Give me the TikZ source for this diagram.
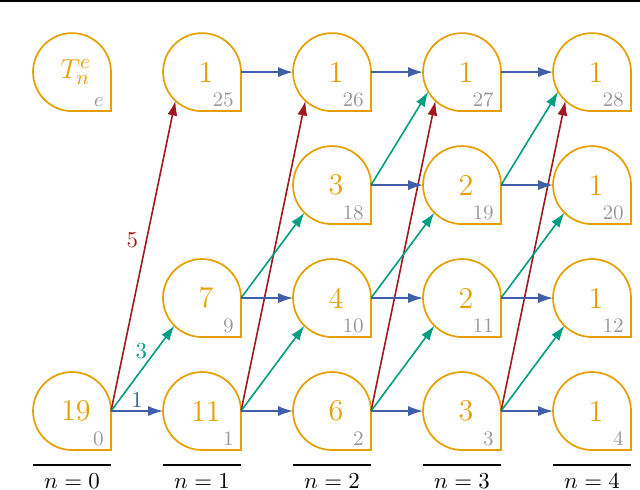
\documentclass[tikz,border=0pt]{standalone}
\usepackage{amsmath}
\usepackage{tikz}
\usetikzlibrary{positioning, arrows.meta}
\definecolor{amber}{HTML}{E69F00}
\definecolor{jade}{HTML}{009E80}
\definecolor{cobalt}{HTML}{3F5FAA}
\definecolor{crimson}{HTML}{9E1A20}
\definecolor{ash}{HTML}{999999}
\tikzset{
  cell/.style      = {circle, minimum size=1.2cm, inner sep=0pt, outer sep=0pt,
                      text=amber, font=\fontsize{13.2}{16}\selectfont,
                      execute at begin node={\hspace*{0.12cm}},
                      append after command={\pgfextra{\begin{pgfinterruptpath}
                        \draw[amber, line width=0.75pt] (\tikzlastnode.east)
                          arc[start angle=0, end angle=270, radius=0.6cm]
                          -| (\tikzlastnode.east);
                        \end{pgfinterruptpath}}}},
  idx/.style       = {anchor=base east, text=ash, font=\small, inner sep=0pt,
                      xshift=0.07cm, yshift=-0.1cm},
  stage/.style     = {inner xsep=0pt, inner ysep=3.5pt, minimum width=1.2cm},
  stagerule/.style = {line width=0.75pt, draw=black},
  hop1/.style      = {-{Latex[length=6.5pt,width=4.4pt]}, line width=0.7pt, draw=cobalt},
  hop3/.style      = {-{Latex[length=6.5pt,width=4.4pt]}, line width=0.7pt, draw=jade},
  hop5/.style      = {-{Latex[length=6.5pt,width=4.4pt]}, line width=0.7pt, draw=crimson},
}
\begin{document}
\begin{tikzpicture}[node distance=0.538cm and 0.8cm]

  \useasboundingbox (0,0) rectangle (9.846,-7.538);
  \draw[line width=0.8pt] (0,-0.012) -- (9.846,-0.012);

  \node[cell, label={[idx]-45:0}]                  (s0)  at (1.108,-6.323) {19};
  \node[cell, right=of s0, label={[idx]-45:1}]     (s1)  {11};
  \node[cell, right=of s1, label={[idx]-45:2}]     (s2)  {6};
  \node[cell, right=of s2, label={[idx]-45:3}]     (s3)  {3};
  \node[cell, right=of s3, label={[idx]-45:4}]     (s4)  {1};

  \node[cell, above=of s1, label={[idx]-45:9}]     (s9)  {7};
  \node[cell, above=of s2, label={[idx]-45:10}]    (s10) {4};
  \node[cell, above=of s3, label={[idx]-45:11}]    (s11) {2};
  \node[cell, above=of s4, label={[idx]-45:12}]    (s12) {1};

  \node[cell, above=of s10, label={[idx]-45:18}]   (s18) {3};
  \node[cell, above=of s11, label={[idx]-45:19}]   (s19) {2};
  \node[cell, above=of s12, label={[idx]-45:20}]   (s20) {1};

  \node[cell, above=of s18, label={[idx]-45:26}]   (s26) {1};
  \node[cell, left=of s26, label={[idx]-45:25}]    (s25) {1};
  \node[cell, above=of s19, label={[idx]-45:27}]   (s27) {1};
  \node[cell, above=of s20, label={[idx]-45:28}]   (s28) {1};
  \node[cell, left=of s25, label={[idx]-45:$e$}]   (te)  {$T_n^e$};

  \node[stage, below=0.23cm of s0] (m0) {$n=0$};
  \node[stage, below=0.23cm of s1] (m1) {$n=1$};
  \node[stage, below=0.23cm of s2] (m2) {$n=2$};
  \node[stage, below=0.23cm of s3] (m3) {$n=3$};
  \node[stage, below=0.23cm of s4] (m4) {$n=4$};
  \draw[stagerule] (m0.north west) -- (m0.north east);
  \draw[stagerule] (m1.north west) -- (m1.north east);
  \draw[stagerule] (m2.north west) -- (m2.north east);
  \draw[stagerule] (m3.north west) -- (m3.north east);
  \draw[stagerule] (m4.north west) -- (m4.north east);

  \draw[hop5] (s0.east) -- node[pos=0.55, left, text=crimson]{5} (s25.227);
  \draw[hop5] (s1.east) -- (s26.227);
  \draw[hop5] (s2.east) -- (s27.227);
  \draw[hop5] (s3.east) -- (s28.227);

  \draw[hop3] (s0.east) -- node[pos=0.7, left, text=jade]{3} (s9.225);
  \draw[hop3] (s1.east) -- (s10.225);
  \draw[hop3] (s2.east) -- (s11.225);
  \draw[hop3] (s3.east) -- (s12.225);
  \draw[hop3] (s9.east) -- (s18.225);
  \draw[hop3] (s10.east) -- (s19.225);
  \draw[hop3] (s11.east) -- (s20.225);
  \draw[hop3] (s18.east) -- (s27.210);
  \draw[hop3] (s19.east) -- (s28.210);

  \draw[hop1] (s0.east) -- node[above, inner sep=1pt, text=cobalt]{1} (s1.west);
  \draw[hop1] (s1.east) -- (s2.west);
  \draw[hop1] (s2.east) -- (s3.west);
  \draw[hop1] (s3.east) -- (s4.west);
  \draw[hop1] (s9.east) -- (s10.west);
  \draw[hop1] (s10.east) -- (s11.west);
  \draw[hop1] (s11.east) -- (s12.west);
  \draw[hop1] (s18.east) -- (s19.west);
  \draw[hop1] (s19.east) -- (s20.west);
  \draw[hop1] (s25.east) -- (s26.west);
  \draw[hop1] (s26.east) -- (s27.west);
  \draw[hop1] (s27.east) -- (s28.west);

\end{tikzpicture}
\end{document}
